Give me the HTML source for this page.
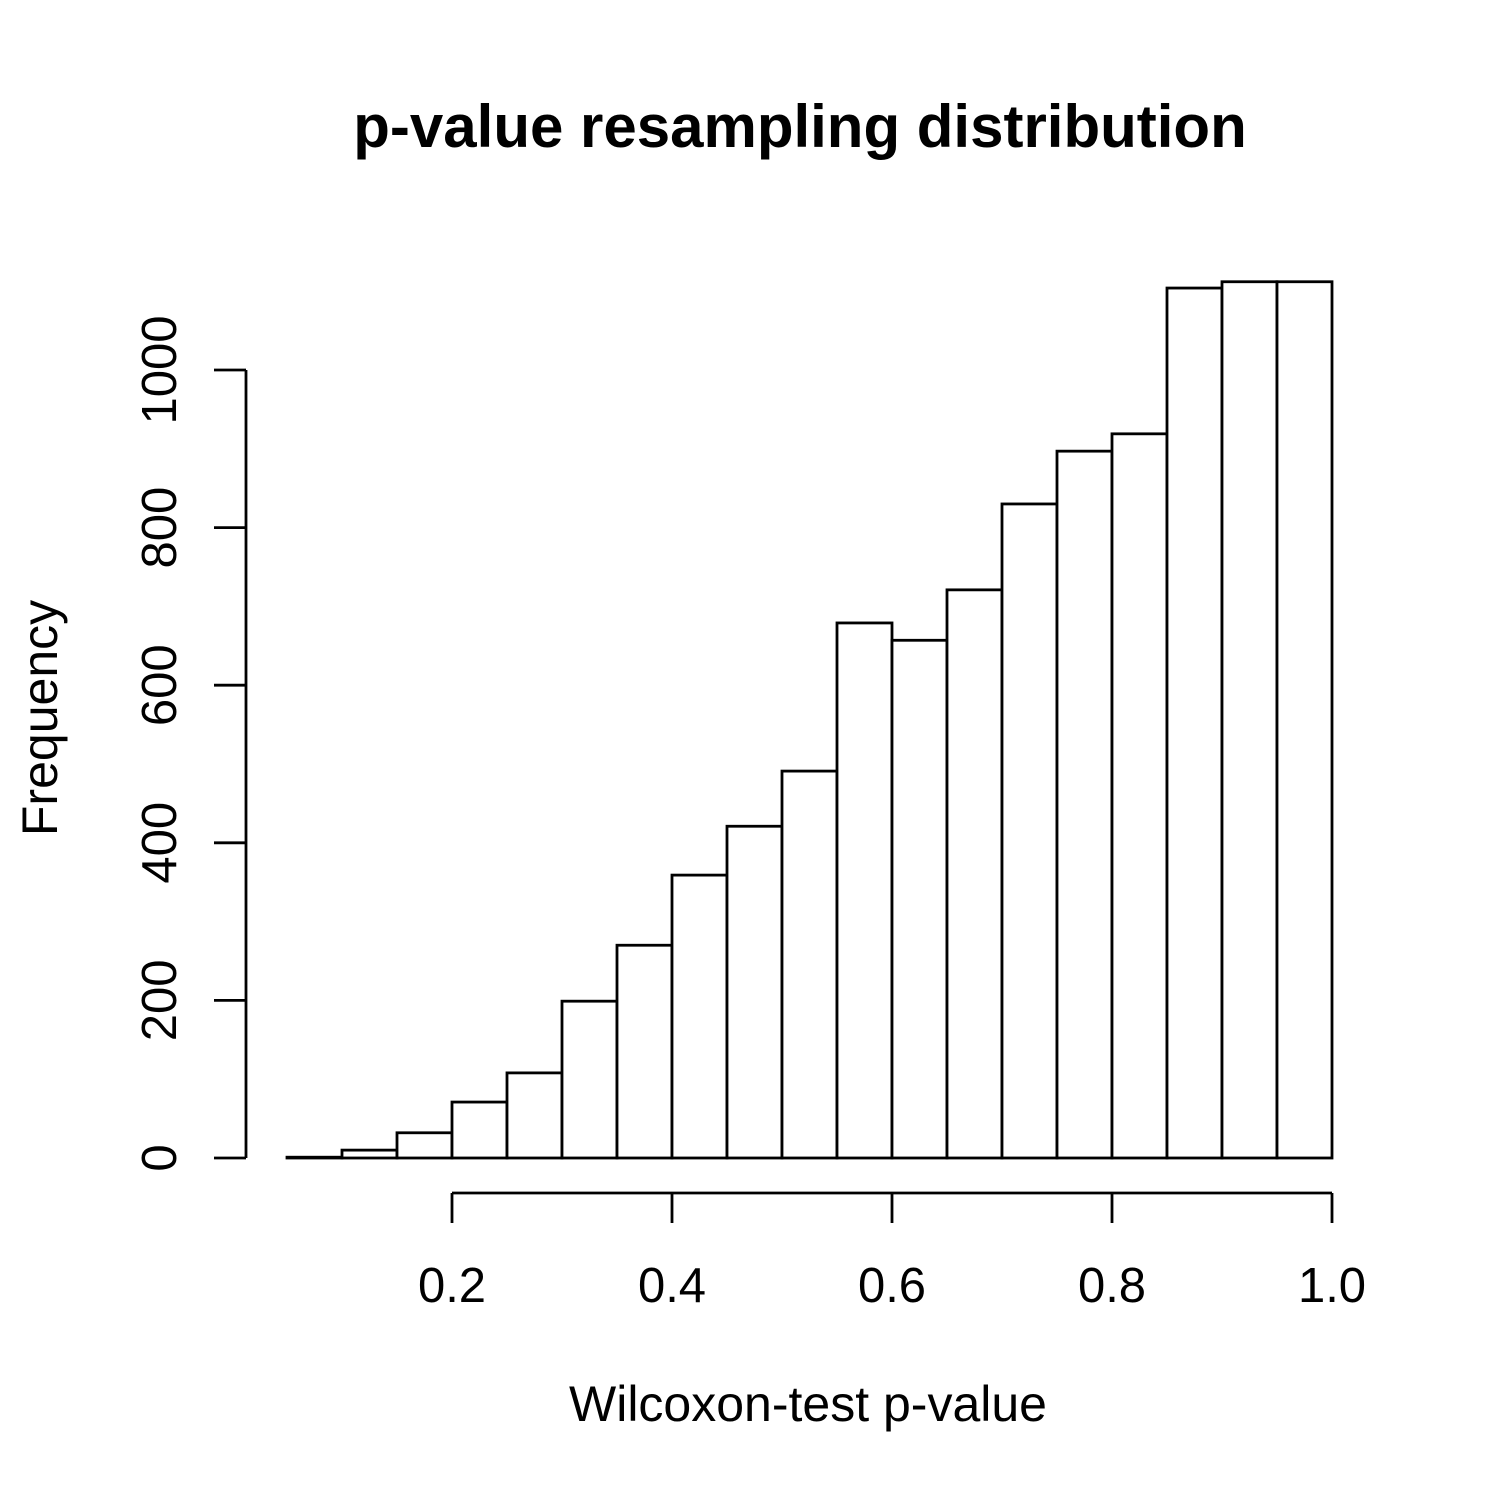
<!DOCTYPE html>
<html><head><meta charset="utf-8"><style>
html,body{margin:0;padding:0;background:#fff;}
svg{display:block;font-family:"Liberation Sans",Arial,sans-serif;}
</style></head><body>
<svg id="chart" width="1500" height="1500" viewBox="0 0 1500 1500">
<rect width="1500" height="1500" fill="#fff"/>
<text x="800" y="147" text-anchor="middle" font-size="60" font-weight="bold">p-value resampling distribution</text>
<text x="808" y="1421" text-anchor="middle" font-size="50">Wilcoxon-test p-value</text>
<text transform="translate(57,718) rotate(-90)" text-anchor="middle" font-size="50">Frequency</text>
<g id="bars"></g><g id="axes"></g>
</svg>
<script>
const binStarts=[0.05,0.10,0.15,0.20,0.25,0.30,0.35,0.40,0.45,0.50,0.55,0.60,0.65,0.70,0.75,0.80,0.85,0.90,0.95];
const binWidth=0.05;
const counts=[1,10,32,71,108,199,270,359,421,491,679,657,721,830,897,919,1104,1112,1112];
const xTicks=[0.2,0.4,0.6,0.8,1.0];
const xTickLabels=["0.2","0.4","0.6","0.8","1.0"];
const yTicks=[0,200,400,600,800,1000];
const yTickLabels=["0","200","400","600","800","1000"];
const NS="http://www.w3.org/2000/svg";
function xs(v){return 232+v*1100;}
function ys(v){return 1158-v*0.788;}
const bars=document.getElementById('bars'),axes=document.getElementById('axes');
function mk(tag,attrs,parent){const e=document.createElementNS(NS,tag);for(const k in attrs)e.setAttribute(k,attrs[k]);parent.appendChild(e);return e;}
binStarts.forEach((b,i)=>{
 const x0=xs(b),x1=xs(b+binWidth),y=ys(counts[i]);
 const r=mk('rect',{x:x0,y:y,width:x1-x0,height:ys(0)-y,fill:'#fff',stroke:'#000','stroke-width':2.8},bars);
 
 
});
const xl=mk('line',{x1:xs(xTicks[0]),x2:xs(xTicks[xTicks.length-1]),y1:1193,y2:1193,stroke:'#000','stroke-width':2.8},axes);


xTicks.forEach((t,i)=>{
 const l=mk('line',{x1:xs(t),x2:xs(t),y1:1193,y2:1223,stroke:'#000','stroke-width':2.8},axes);
 
 
 const tx=mk('text',{x:xs(t),y:1302,'text-anchor':'middle','font-size':49},axes);
 tx.textContent=xTickLabels[i];
 
 
});
const yl=mk('line',{x1:246,x2:246,y1:ys(yTicks[yTicks.length-1]),y2:ys(yTicks[0]),stroke:'#000','stroke-width':2.8},axes);


yTicks.forEach((t,i)=>{
 const l=mk('line',{x1:214,x2:246,y1:ys(t),y2:ys(t),stroke:'#000','stroke-width':2.8},axes);
 
 
 const tx=mk('text',{transform:'translate(176,'+ys(t)+') rotate(-90)','text-anchor':'middle','font-size':49},axes);
 tx.textContent=yTickLabels[i];
 
 
});
</script>
</body></html>
